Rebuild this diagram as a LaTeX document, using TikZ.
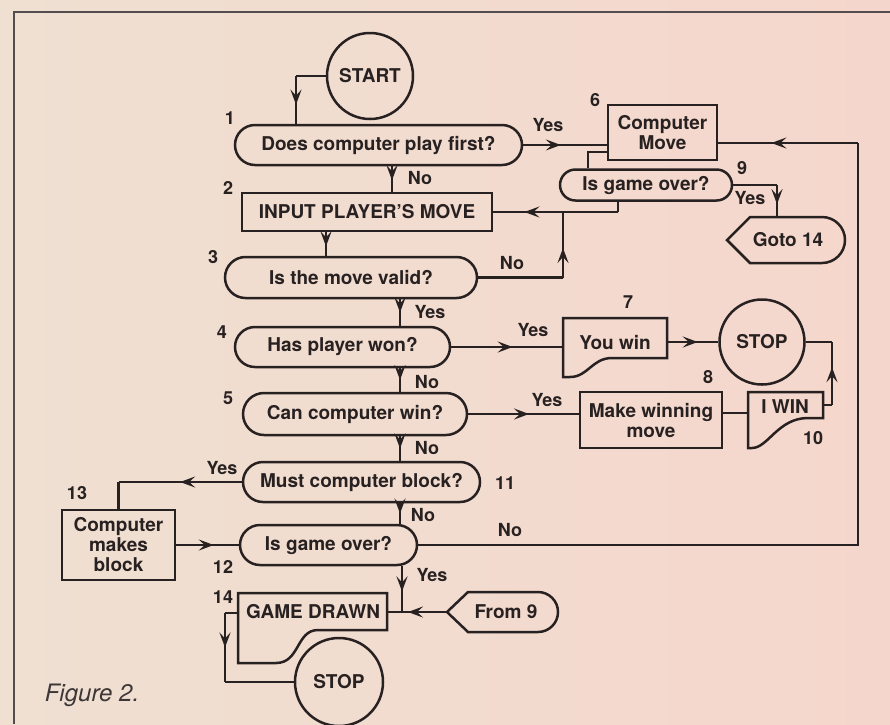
\documentclass[tikz,border=0pt]{standalone}
\usepackage{fontspec}
\setmainfont{TeX Gyre Heros}
\usetikzlibrary{arrows.meta,decorations.markings,shapes.misc,calc}
\definecolor{ink}{RGB}{40,33,33}
\definecolor{paperL}{RGB}{239,224,210}
\definecolor{paperR}{RGB}{245,214,204}
\newcommand\nodefont{\fontsize{19}{20}\selectfont\bfseries}
\newcommand\labfont{\fontsize{18}{18}\selectfont\bfseries}
\tikzset{
  marr/.style={postaction={decorate,decoration={markings,
      mark=at position #1 with {\arrow{Stealth[length=15pt,width=11pt,inset=6pt]}}}}},
  marr/.default=0.5,
  term/.style={circle, draw, inner sep=0pt, minimum size=#1, font=\nodefont},
  term/.default=86pt,
  dec/.style={rounded rectangle, draw, inner sep=0pt, font=\nodefont},
  proc/.style={rectangle, draw, inner sep=0pt, align=center, font=\nodefont},
  txt/.style={inner sep=0pt, font=\nodefont, align=center},
  lab/.style={inner sep=0pt, font=\labfont},
}
\begin{document}
\begin{tikzpicture}[x=1pt,y=-1pt,line width=2.5pt,color=ink,line join=miter]
\useasboundingbox (0,0) rectangle (890,724);
\shade[left color=paperL,right color=paperR] (0,0) rectangle (890,724);
% frame
\draw[line width=1.8pt,color=ink!80] (14,724) -- (14,12) -- (890,12);

% ---- nodes ----
\node[term=86pt] (start) at (370,76) {START};
\node[dec, minimum width=287pt, minimum height=40pt] (d1) at (378.5,145) {Does computer play first?};
\node[proc, minimum width=109pt, minimum height=55pt] (cm) at (662.5,132.5) {Computer\\Move};
\node[dec, minimum width=172pt, minimum height=31pt] (d9) at (646,185) {Is game over?};
\node[txt] (goto) at (788,240) {Goto 14};
\draw (727,240) -- (750,217) -- (822,217) arc[start angle=90,end angle=-90,radius=23pt] -- (750,263) -- cycle;
\coordinate (gotoN) at (777,217);
\node[proc, minimum width=250pt, minimum height=38pt] (inp) at (367,212) {INPUT PLAYER'S MOVE};
\node[dec, minimum width=252pt, minimum height=41pt] (d3) at (351,277.5) {Is the move valid?};
\node[dec, minimum width=215pt, minimum height=40pt] (d4) at (342.5,347) {Has player won?};
% You win
\node[txt] (yw) at (615,342) {You win};
\draw (563,318) -- (667,318) -- (667,358) -- (612,358) .. controls (592,358) and (588,377) .. (570,377) -- (563,377) -- cycle;
\coordinate (ywW) at (563,345);
\coordinate (ywE) at (667,342);
\node[term=85pt] (stop1) at (762,342) {STOP};
\node[proc, minimum width=142pt, minimum height=56pt] (mwm) at (651,420) {Make winning\\move};
% I WIN
\node[txt] (iwin) at (785,407) {I WIN};
\draw (748,392) -- (823,392) -- (823,418) -- (808,418) .. controls (778,418) and (768,448) .. (752,448) -- (748,448) -- cycle;
\coordinate (iwW) at (748,413);
\coordinate (iwE) at (823,405);
\node[dec, minimum width=224pt, minimum height=42pt] (d5) at (355,414) {Can computer win?};
\node[dec, minimum width=237pt, minimum height=40pt] (d11) at (361.5,482) {Must computer block?};
\node[proc, minimum width=113pt, minimum height=70pt] (cmb) at (118.5,545) {Computer\\makes\\block};
\node[dec, minimum width=177pt, minimum height=40pt] (d12) at (328.5,545) {Is game over?};
% From 9
\node[txt] (from9) at (506,612) {From 9};
\draw (447,612) -- (468,592) -- (538,592) arc[start angle=90,end angle=-90,radius=20pt] -- (468,632) -- cycle;
\coordinate (f9tip) at (447,612);
% GAME DRAWN
\node[txt] (gd) at (313,612) {GAME DRAWN};
\draw (238,593) -- (387,593) -- (387,630) -- (318,630) .. controls (296,630) and (300,663) .. (276,663) -- (238,663) -- cycle;
\coordinate (gdE) at (387,612);
\coordinate (gdW) at (238,613);
\node[term=88pt] (stop2) at (339,682) {STOP};

% ---- connectors ----
\draw (start.west) -- (start.west -| 296,0) coordinate (c1);
\draw[marr=0.6] (c1) -- (d1.north -| 296,0);
\draw[marr=0.45] (d1.east) -- (d1.east -| cm.west);
\draw[marr=0.55] (d1.south -| 392,0) -- (inp.north -| 392,0);
\draw (d9.south -| 618,0) -- (618,212) coordinate (c4);
\draw[marr=0.75] (c4) -- (inp.east |- c4);
\draw (d3.east) -- (d3.east -| 563,0) coordinate (c5);
\draw[marr=0.45] (c5) -- (c4 -| c5);
\draw (cm.west |- 0,152) -- (588,152) -- (d9.north -| 588,0);
\draw (d9.east) -- (d9.east -| gotoN) coordinate (c7);
\draw[marr=0.6] (c7) -- (gotoN);
\draw[marr=0.6] (inp.south -| 326,0) -- (d3.north -| 326,0);
\draw[marr=0.5] (d3.south -| 400,0) -- (d4.north -| 400,0);
\draw[marr=0.5] (d4.south -| 400,0) -- (d5.north -| 400,0);
\draw[marr=0.5] (d5.south -| 400,0) -- (d11.north -| 400,0);
\draw[marr=0.5] (d11.south -| 400,0) -- (d12.north -| 400,0);
\draw[marr=0.55] (d4.east) -- (ywW |- d4.east);
\draw[marr=0.6] (ywE) -- (stop1.west);
\draw[marr=0.55] (d5.east) -- (d5.east -| mwm.west);
\draw (mwm.east |- iwW) -- (iwW);
\draw (iwE) -- (iwE -| 832,0) coordinate (c17);
\draw[marr=0.6] (c17) -- (stop1.east -| c17);
\draw (stop1.east -| c17) -- (stop1.east);
\draw[marr=0.5] (d11.west) -- (cmb.north |- d11.west);
\draw (cmb.north |- d11.west) -- (cmb.north);
\draw[marr=0.6] (cmb.east) -- (d12.west);
\draw (d12.east) -- (d12.east -| 858,0) -- (858,143) coordinate (c20);
\draw[marr=0.62] (c20) -- (cm.east |- c20);
\draw[marr=0.55] (d12.south -| 402,0) -- (402,612);
\draw[marr=0.65] (f9tip) -- (gdE);
\draw (gdW) -- (gdW -| 225,0) coordinate (c23);
\draw[marr=0.5] (c23) -- (stop2.west -| c23);
\draw (stop2.west -| c23) -- (stop2.west);

% ---- labels ----
\node[lab] (n1) at (230,118) {1};
\node[lab] (n2) at (228,188) {2};
\node[lab] (n3) at (213,257) {3};
\node[lab] (n4) at (222,332) {4};
\node[lab] (n5) at (228,398) {5};
\node[lab] (n6) at (595,100) {6};
\node[lab] (n7) at (628,302) {7};
\node[lab] (n8) at (708,377) {8};
\node[lab] (n9) at (742,168) {9};
\node[lab] (n10) at (813,438) {10};
\node[lab] (n11) at (505,483) {11};
\node[lab] (n12) at (223,567) {12};
\node[lab] (n13) at (77,493) {13};
\node[lab] (n14) at (223,597) {14};
\node[lab] (y1) at (548,125) {Yes};
\node[lab] (no1) at (420,178) {No};
\node[lab] (y9) at (750,198) {Yes};
\node[lab] (no3) at (512,263) {No};
\node[lab] (y3) at (430,312) {Yes};
\node[lab] (y4) at (533,330) {Yes};
\node[lab] (no4) at (427,382) {No};
\node[lab] (y5) at (547,400) {Yes};
\node[lab] (no5) at (427,448) {No};
\node[lab] (y11) at (222,468) {Yes};
\node[lab] (no11) at (423,515) {No};
\node[lab] (no12) at (510,530) {No};
\node[lab] (y12) at (432,575) {Yes};
\node[inner sep=0pt, font=\fontsize{24}{24}\selectfont\itshape, color=ink!90] (cap) at (92,695) {Figure 2.};
\end{tikzpicture}
\end{document}
